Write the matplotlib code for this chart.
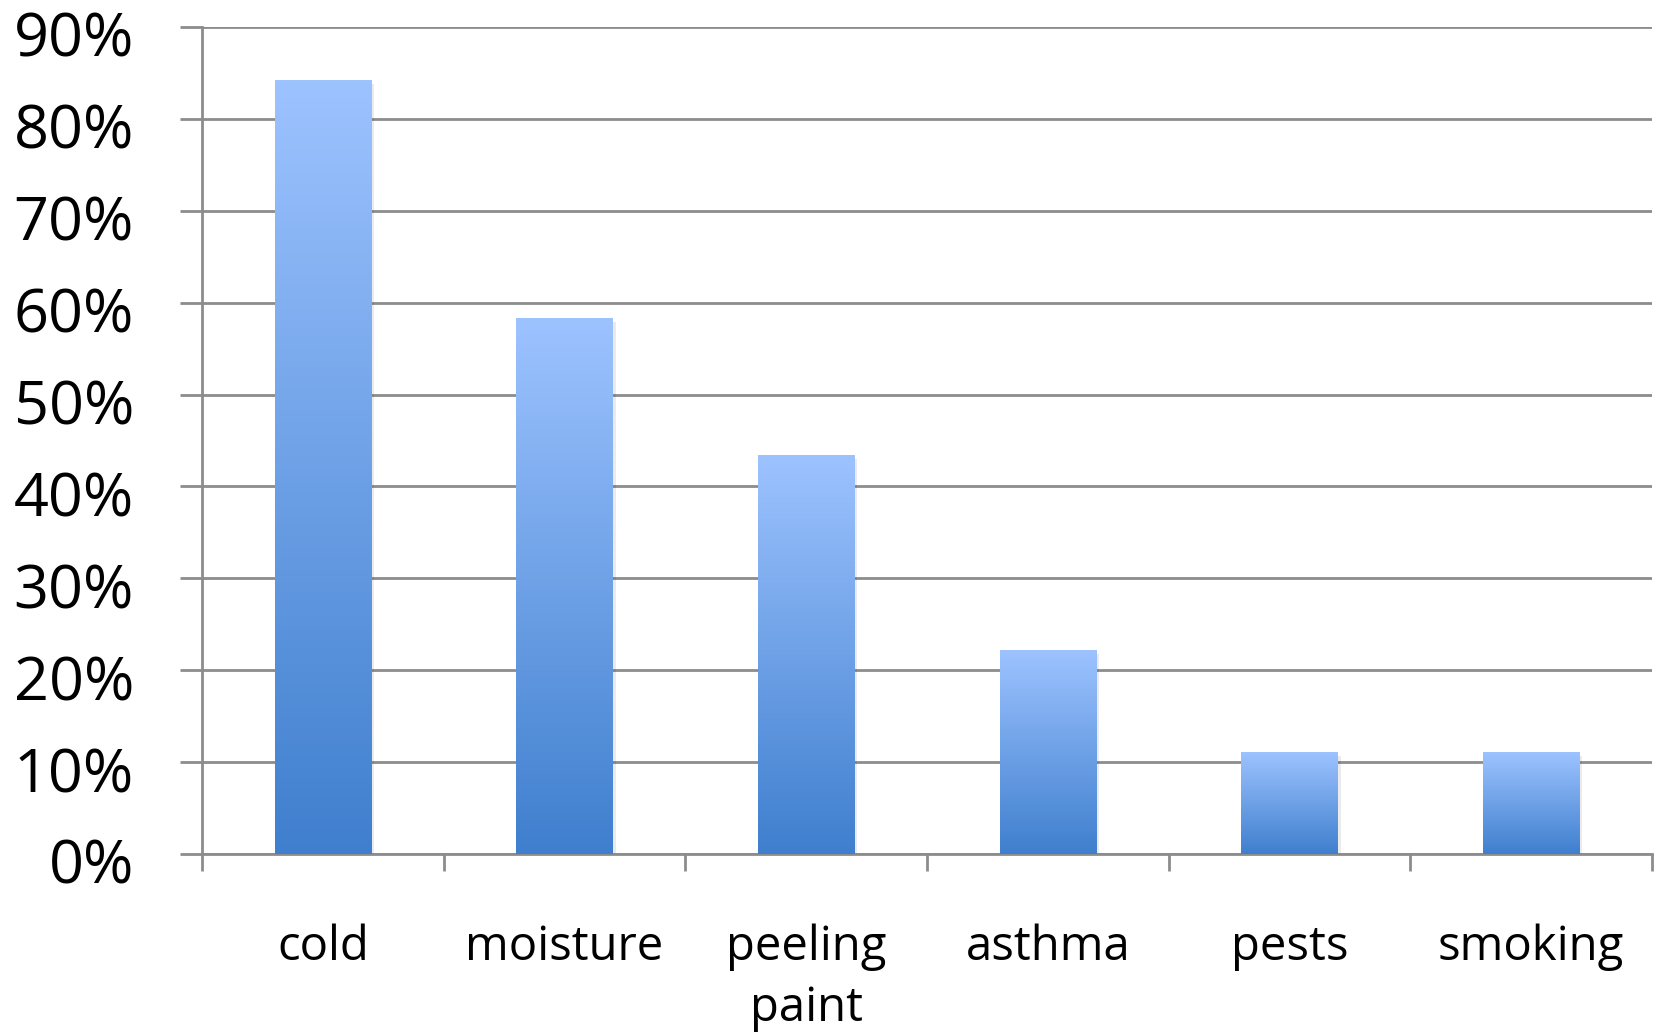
import numpy as np
import matplotlib.pyplot as plt
import matplotlib.transforms as mtransforms
from matplotlib.ticker import PercentFormatter, FixedLocator
from matplotlib.colors import LinearSegmentedColormap

categories = ['cold', 'moisture', 'peeling\npaint', 'asthma', 'pests', 'smoking']
values = [0.842, 0.583, 0.434, 0.222, 0.111, 0.111]
yticks = [0.0, 0.1, 0.2, 0.3, 0.4, 0.5, 0.6, 0.7, 0.8, 0.9]

plt.rcParams['font.family'] = ['Open Sans', 'DejaVu Sans']

fig = plt.figure(figsize=(16.59, 10.34), dpi=100)
ax = fig.add_axes([0.1218, 0.1741, 0.8740, 0.7998])

x = np.arange(len(categories))
width = 0.40
grid_col = '#8c8c8c'

# gradient fill: light blue at top, darker at bottom
grad = np.linspace(0, 1, 256).reshape(-1, 1)
cmap = LinearSegmentedColormap.from_list('bar', ['#3f7fce', '#9dc3ff'])

for xi, v in zip(x, values):
    # faint shadow
    ax.bar(xi + 0.012, v, width, bottom=-0.004, color='#000000', alpha=0.08, zorder=2)
    ax.imshow(grad, cmap=cmap, aspect='auto', origin='lower',
              extent=(xi - width / 2, xi + width / 2, 0, v), zorder=3)

ax.set_xlim(-0.5, len(categories) - 0.5)
ax.set_ylim(0, 0.9)

ax.set_yticks(yticks)
ax.yaxis.set_major_formatter(PercentFormatter(1.0, decimals=0))
ax.yaxis.grid(True, color=grid_col, linewidth=2, zorder=1)
ax.set_axisbelow(True)

ax.set_xticks(x)
ax.set_xticklabels(categories, fontsize=34, linespacing=1.38)
ax.xaxis.set_minor_locator(FixedLocator(np.arange(-0.5, len(categories), 1.0)))
ax.tick_params(axis='x', which='major', length=0, pad=50)
ax.tick_params(axis='x', which='minor', length=12, width=2, color=grid_col)
ax.tick_params(axis='y', length=16, width=2, color=grid_col, pad=33, labelsize=44)

# nudge y labels down a little, like the original
off = mtransforms.ScaledTranslation(0, -7 / 100, fig.dpi_scale_trans)
for lab in ax.get_yticklabels():
    lab.set_transform(lab.get_transform() + off)

for s in ['top', 'right']:
    ax.spines[s].set_visible(False)
ax.spines['left'].set_color(grid_col)
ax.spines['left'].set_linewidth(2)
ax.spines['bottom'].set_color(grid_col)
ax.spines['bottom'].set_linewidth(2)

fig.savefig('out.png', dpi=100)
